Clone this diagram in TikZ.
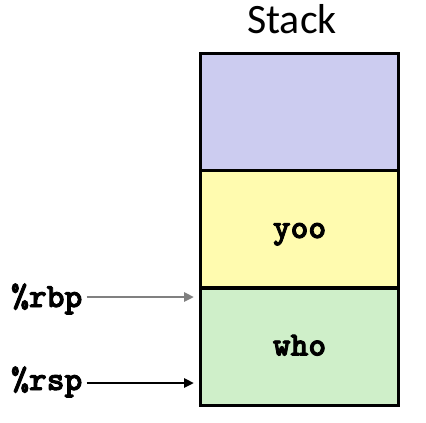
\documentclass[tikz,border=0pt]{standalone}
\usepackage{fontspec}
\setmainfont{Carlito}
\usetikzlibrary{arrows.meta,calc}
\definecolor{cblue}{HTML}{CCCCF0}
\definecolor{cyellow}{HTML}{FFFBAF}
\definecolor{cgreen}{HTML}{CFEFC9}
\definecolor{cgray}{HTML}{808080}
\newcommand{\heavy}[1]{\special{pdf:literal 2 Tr 0.9 w 0 G}#1\special{pdf:literal 0 Tr}}
\newcommand{\codestyle}{\ttfamily\bfseries\fontsize{34}{34}\selectfont}
\begin{document}
\begin{tikzpicture}[x=1bp,y=-1bp,
  cell/.style={draw=black,line width=3bp,minimum width=197bp,minimum height=117bp,inner sep=0pt,font=\codestyle,text height=21bp,text depth=3bp},
  reg/.style={font=\codestyle,anchor=base west,inner sep=0pt},
  ptr/.style={line width=2.5bp,-{Triangle[length=10bp,width=9bp]}}]
\useasboundingbox (0,0) rectangle (426,423);
\node[font=\fontsize{42}{42}\selectfont,anchor=base] (title) at (292,33) {Stack};
\node[cell,fill=cblue] (c1) at (299.5,111.5) {};
\node[cell,fill=cyellow] (c2) at (299.5,229) {\heavy{yoo}};
\node[cell,fill=cgreen] (c3) at (299.5,346.5) {\heavy{who}};
\node[reg] (rbp) at (11,307) {\heavy{\%rbp}};
\node[reg] (rsp) at (11,390) {\heavy{\%rsp}};
\coordinate (rbpend) at (194,297);
\coordinate (rspend) at (194,383);
\draw[ptr,cgray] ($(rbp.east |- rbpend)+(4,0)$) -- (rbpend);
\draw[ptr,black] ($(rsp.east |- rspend)+(4,0)$) -- (rspend);
\end{tikzpicture}
\end{document}
